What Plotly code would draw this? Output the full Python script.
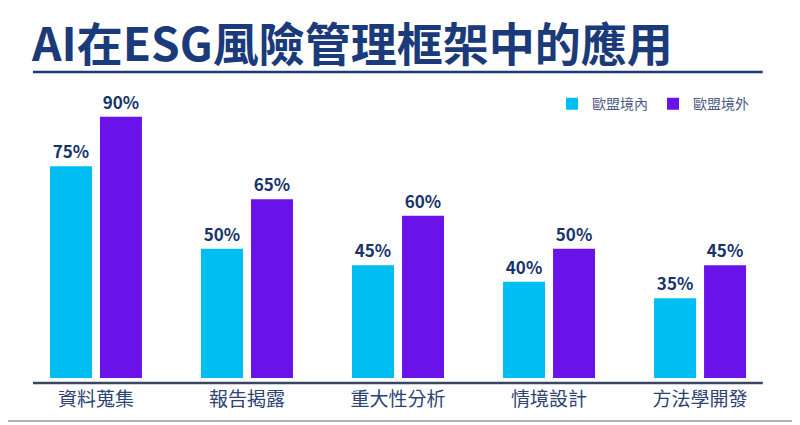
import plotly.graph_objects as go

categories = ['資料蒐集', '報告揭露', '重大性分析', '情境設計', '方法學開發']
eu_inside = [75, 50, 45, 40, 35]
eu_outside = [90, 65, 60, 50, 45]
series_names = ['歐盟境內', '歐盟境外']

CJK = 'Noto Sans CJK TC'
NAVY = '#1b3a7a'

fig = go.Figure()

fig.add_trace(go.Bar(
    x=categories, y=eu_inside, name=series_names[0],
    marker=dict(color='#00bdf2', line=dict(width=0)),
    texttemplate='<b>%{y}%</b>', textposition='outside',
    textfont=dict(family=CJK, size=17, color='#17336b'),
    cliponaxis=False,
))
fig.add_trace(go.Bar(
    x=categories, y=eu_outside, name=series_names[1],
    marker=dict(color='#6a12ea', line=dict(width=0)),
    texttemplate='<b>%{y}%</b>', textposition='outside',
    textfont=dict(family=CJK, size=17, color='#17336b'),
    cliponaxis=False,
))

# the page body has an 8px margin, so the margins are 8px smaller on the left/top
fig.update_layout(
    width=800, height=425,
    margin=dict(l=25, r=43, t=92, b=55),
    paper_bgcolor='white', plot_bgcolor='white',
    barmode='group', bargap=0.338, bargroupgap=0.16,
    font=dict(family=CJK, color='#2c4373'),
    showlegend=True,
    legend=dict(
        orientation='h', x=0.985, xanchor='right', y=0.985, yanchor='middle',
        font=dict(family=CJK, size=14, color='#4a5a80'),
        itemwidth=30, bgcolor='rgba(0,0,0,0)',
    ),
    xaxis=dict(
        type='category', range=[-0.417, 4.43],
        showgrid=False, showline=False, ticks='', zeroline=False,
        ticklabelstandoff=8,
        tickfont=dict(family=CJK, size=19, color='#2c4373'),
    ),
    yaxis=dict(
        range=[10.82, 95.06], visible=False, showgrid=False, zeroline=False,
    ),
    annotations=[dict(
        text='<b>AI在ESG風險管理框架中的應用</b>',
        xref='paper', yref='paper', x=-0.006, y=1.212,
        xanchor='left', yanchor='middle', showarrow=False,
        font=dict(family=CJK, size=46, color=NAVY),
    )],
    shapes=[
        # line under title
        dict(type='line', xref='paper', yref='paper', x0=0, x1=0.997,
             y0=1.1007, y1=1.1007, line=dict(color=NAVY, width=2.5)),
        # baseline under bars
        dict(type='line', xref='paper', yref='paper', x0=0, x1=0.997,
             y0=-0.018, y1=-0.018, line=dict(color='#3a4660', width=2.5)),
        # grey frame edges
        dict(type='line', xref='paper', yref='paper', x0=-0.05, x1=1.043,
             y0=-0.1547, y1=-0.1547, line=dict(color='#b0b0b0', width=2)),
        dict(type='line', xref='paper', yref='paper', x0=1.042, x1=1.042,
             y0=-0.1547, y1=1.4, line=dict(color='#b8b8b8', width=2)),
    ],
)

fig.write_html("out.html")
